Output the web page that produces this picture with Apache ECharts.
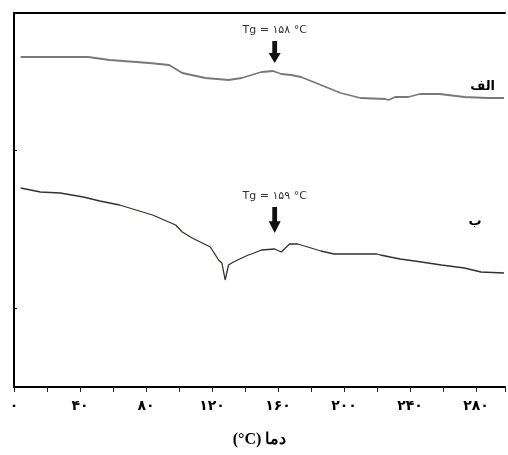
<!DOCTYPE html>
<html>
<head>
<meta charset="utf-8">
<script src="https://cdn.jsdelivr.net/npm/echarts@6/dist/echarts.min.js"></script>
<style>
html,body{margin:0;padding:0;background:#fff;}
#chart{width:508px;height:455px;}
</style>
</head>
<body>
<div id="chart"></div>
<script>
// Temperature (°C) and relative heat-flow (arbitrary units)
var topTemps = [4, 45, 58, 82, 94, 102, 116, 130, 138, 150, 157, 162, 168, 174, 186, 198, 210, 225, 227, 231, 239, 246, 258, 273, 287, 297];
var topVals  = [330, 330, 327, 324, 322, 314, 309, 307, 309, 315, 316, 313, 312, 310, 302, 294, 289, 288, 287, 290, 290, 293, 293, 290, 289, 289];

var botTemps = [4, 16, 28, 42, 52, 64, 74, 84, 98, 102, 108, 119, 124, 126, 128, 130, 133, 142, 144, 150, 158, 162, 167, 172, 178, 186, 194, 220, 222, 234, 247, 259, 273, 283, 297];
var botVals  = [199, 195, 194, 190, 186, 182, 177, 172, 162, 155, 149, 140, 127, 124, 107, 122, 125, 132, 133, 137, 138, 135, 143, 143, 140, 136, 133, 133, 132, 128, 125, 122, 119, 115, 114];

var xTicks = [0, 40, 80, 120, 160, 200, 240, 280];
var xTickLabels = ['۰', '۴۰', '۸۰', '۱۲۰', '۱۶۰', '۲۰۰', '۲۴۰', '۲۸۰'];
var yTickValues = [79, 237];

var seriesNames = ['الف', 'ب'];
var tgTemps = [158, 158];
var tgArrowVals = [335, 167];
var tgLabels = ['Tg = ۱۵۸ °C', 'Tg = ۱۵۹ °C'];
var nameTemps = [284, 279.5];
var nameVals = [300, 165];

function pairs(xs, ys) { return xs.map(function (x, i) { return [x, ys[i]]; }); }

var arrowPath = 'path://M3,0 L7,0 L7,12 L10,12 L5,22 L0,12 L3,12 Z';

function marks(i, size) {
  return {
    silent: true,
    animation: false,
    data: [
      {
        coord: [tgTemps[i], tgArrowVals[i]],
        symbol: arrowPath,
        symbolSize: size,
        itemStyle: { color: '#111' },
        label: {
          show: true, position: 'top', distance: 5,
          formatter: tgLabels[i],
          color: '#333', fontSize: 11, fontFamily: 'DejaVu Sans'
        }
      },
      {
        coord: [nameTemps[i], nameVals[i]],
        symbol: 'circle', symbolSize: 0,
        label: {
          show: true, position: 'inside',
          formatter: seriesNames[i],
          color: '#000', fontSize: 13, fontWeight: 'bold', fontFamily: 'DejaVu Sans'
        }
      }
    ]
  };
}

var chart = echarts.init(document.getElementById('chart'), null, { renderer: 'canvas' });
chart.setOption({
  animation: false,
  backgroundColor: '#fff',
  grid: { left: 14, right: 0, top: 13, bottom: 68, containLabel: false },
  xAxis: [
    {
      type: 'value', min: 0, max: 297.6, interval: 20, position: 'bottom',
      axisLine: { show: true, lineStyle: { color: '#000', width: 2 } },
      axisTick: { show: true, length: 5, lineStyle: { color: '#222', width: 1 } },
      splitLine: { show: false },
      axisLabel: {
        margin: 12, color: '#000', fontSize: 14, fontWeight: 'bold', fontFamily: 'DejaVu Sans',
        formatter: function (v) { var k = xTicks.indexOf(v); return k >= 0 ? xTickLabels[k] : ''; }
      },
      name: '(°C) دما', nameLocation: 'middle', nameGap: 45,
      nameTextStyle: { color: '#000', fontSize: 16, fontWeight: 'bold', fontFamily: 'Liberation Serif' }
    },
    {
      type: 'value', min: 0, max: 297.6, position: 'top',
      axisLine: { show: true, onZero: false, lineStyle: { color: '#000', width: 2 } },
      axisTick: { show: false }, axisLabel: { show: false }, splitLine: { show: false }
    }
  ],
  yAxis: {
    type: 'value', min: 0, max: 374,
    axisLine: { show: true, onZero: false, lineStyle: { color: '#000', width: 2 } },
    axisTick: { show: true, inside: true, length: 3, customValues: yTickValues, lineStyle: { color: '#000' } },
    axisLabel: { show: false },
    splitLine: { show: false }
  },
  series: [
    {
      name: seriesNames[0], type: 'line', xAxisIndex: 0,
      data: pairs(topTemps, topVals), showSymbol: false, symbol: 'none',
      lineStyle: { color: '#787878', width: 1.8 },
      markPoint: marks(0, [12, 22])
    },
    {
      name: seriesNames[1], type: 'line', xAxisIndex: 0,
      data: pairs(botTemps, botVals), showSymbol: false, symbol: 'none',
      lineStyle: { color: '#2b352b', width: 1.3 },
      markPoint: marks(1, [12, 26])
    }
  ]
});
</script>
</body>
</html>
